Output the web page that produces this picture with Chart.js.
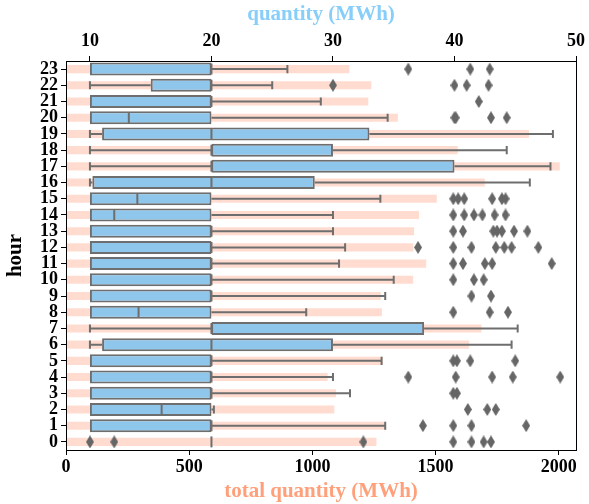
<!DOCTYPE html>
<html>
<head>
<meta charset="utf-8">
<script src="https://cdn.jsdelivr.net/npm/chart.js@4/dist/chart.umd.min.js"></script>
<style>
    html, body { margin: 0; padding: 0; background: #fff; }
    #wrap { width: 589px; height: 504px; }
</style>
</head>
<body>
<div id="wrap"><canvas id="hourChart"></canvas></div>
<script>
/* ── data ───────────────────────────────────────────────────── */
const hours    = ['0','1','2','3','4','5','6','7','8','9','10','11',
                  '12','13','14','15','16','17','18','19','20','21','22','23'];
const whiskLo  = [20, 10, 10, 10, 10, 10, 10, 10, 10, 10, 10, 10,
                  10, 10, 10, 10, 10, 10, 10, 10, 10, 10, 10, 10];
const q1       = [20, 10, 10, 10, 10, 10, 11, 20, 10, 10, 10, 10,
                  10, 10, 10, 10, 10.2, 20, 20, 11, 10, 10, 15, 10];
const median   = [20, 20, 15.9, 20, 20, 20, 20, 20, 14, 20, 20, 20,
                  20, 20, 12, 13.9, 20, 20, 20, 20, 13.2, 20, 20, 20];
const q3       = [20, 20, 20, 20, 20, 20, 30, 37.5, 20, 20, 20, 20,
                  20, 20, 20, 20, 28.5, 40, 30, 33, 20, 20, 20, 20];
const whiskHi  = [20, 34.3, 20.2, 31.4, 30, 34, 44.7, 45.2, 27.8, 34.3, 35, 30.5,
                  31, 30, 30, 33.9, 46.2, 47.9, 44.3, 48.1, 34.5, 29, 25, 26.25];
const outliers = [
    [10, 12, 32.5, 39.9, 41.4, 42.4, 43],
    [37.4, 39.9, 41.4, 45.9],
    [41.1, 42.7, 43.4],
    [39.9, 40.2],
    [36.2, 40.1, 43.1, 44.8, 48.7],
    [39.9, 40.2, 41.3, 45],
    [],
    [],
    [39.9, 42.9, 44.4],
    [41.4, 43],
    [39.9, 41.6, 42.4],
    [39.9, 40.7, 42.5, 43.1, 48],
    [37, 39.9, 41.4, 43.4, 44.1, 44.7, 46.9],
    [39.9, 40.7, 43.2, 43.5, 43.9, 44.9, 46],
    [39.9, 40.8, 41.6, 42.3, 43.3, 44.2],
    [39.9, 40.3, 40.8, 43.1, 43.9, 44.2],
    [],
    [],
    [],
    [],
    [40, 40.1, 43, 44.3],
    [42],
    [30, 40, 41, 42.8],
    [36.2, 41.3, 42.9],
];
const totals   = [1260, 1296, 1089, 1096, 1062, 1285, 1636, 1686, 1282, 1278, 1409, 1462,
                  1410, 1413, 1433, 1505, 1700, 2004, 1590, 1879, 1347, 1227, 1239, 1150];
const qtyTicks   = [10, 20, 30, 40, 50];
const totalTicks = [0, 500, 1000, 1500, 2000];

/* ── styles ─────────────────────────────────────────────────── */
const serif     = "'Liberation Serif', 'Times New Roman', serif";
const tickFont  = { family: serif, size: 18, weight: 'bold' };
const titleFont = { family: serif, size: 21, weight: 'bold' };
const edge      = '#6e6e6e';
const boxFill   = '#8fc7ec';
const barFill   = '#ffdccf';

// thin diamond marker like matplotlib's 'd'
function thinDiamond(w, h, color) {
    const c = document.createElement('canvas');
    c.width = w; c.height = h;
    const g = c.getContext('2d');
    g.fillStyle = color;
    g.beginPath();
    g.moveTo(w / 2, 0);
    g.lineTo(w, h / 2);
    g.lineTo(w / 2, h);
    g.lineTo(0, h / 2);
    g.closePath();
    g.fill();
    return c;
}

const outlierPts = outliers.flatMap((row, i) => row.map(v => ({ x: v, y: hours[i] })));

/* ── whiskers, caps, medians ────────────────────────────────── */
const boxWhiskers = {
    id: 'boxWhiskers',
    afterDatasetDraw(chart, args) {
        if (args.index !== 1) return;
        const { ctx } = chart;
        const xs = chart.scales.x2, ys = chart.scales.y;
        const band = Math.abs(ys.getPixelForValue(1) - ys.getPixelForValue(0));
        const boxH = band * 0.8, capH = band * 0.5;
        const px = v => xs.getPixelForValue(v);
        ctx.save();
        ctx.strokeStyle = edge;
        ctx.lineWidth = 2;
        hours.forEach((h, i) => {
            const y = ys.getPixelForValue(i);
            ctx.beginPath();
            if (whiskLo[i] < q1[i]) {
                ctx.moveTo(px(whiskLo[i]), y); ctx.lineTo(px(q1[i]), y);
                ctx.moveTo(px(whiskLo[i]), y - capH / 2); ctx.lineTo(px(whiskLo[i]), y + capH / 2);
            }
            if (whiskHi[i] > q3[i]) {
                ctx.moveTo(px(q3[i]), y); ctx.lineTo(px(whiskHi[i]), y);
                ctx.moveTo(px(whiskHi[i]), y - capH / 2); ctx.lineTo(px(whiskHi[i]), y + capH / 2);
            }
            ctx.moveTo(px(median[i]), y - boxH / 2 + 1);
            ctx.lineTo(px(median[i]), y + boxH / 2 - 1);
            ctx.stroke();
        });
        ctx.restore();
    },
};

const frame = {
    id: 'frame',
    afterDraw(chart) {
        const { ctx, chartArea: a } = chart;
        ctx.save();
        ctx.strokeStyle = '#000';
        ctx.lineWidth = 1;
        ctx.strokeRect(Math.round(a.left) + 0.5, Math.round(a.top) + 0.5,
                       Math.round(a.right - a.left), Math.round(a.bottom - a.top));
        ctx.restore();
    },
};

/* ── chart ──────────────────────────────────────────────────── */
new Chart(document.getElementById('hourChart'), {
    type: 'bar',
    data: {
        labels: hours,
        datasets: [
            {
                label: 'total quantity',
                data: totals,
                indexAxis: 'y',
                xAxisID: 'x', yAxisID: 'y',
                backgroundColor: barFill,
                borderWidth: 0,
                grouped: false,
                barPercentage: 0.5,
                categoryPercentage: 1,
                order: 3,
            },
            {
                label: 'quantity',
                data: q1.map((v, i) => [v, q3[i]]),
                indexAxis: 'y',
                xAxisID: 'x2', yAxisID: 'y',
                backgroundColor: boxFill,
                borderColor: edge,
                borderWidth: 2,
                borderSkipped: false,
                grouped: false,
                barPercentage: 0.8,
                categoryPercentage: 1,
                order: 2,
            },
            {
                type: 'scatter',
                label: 'outliers',
                data: outlierPts,
                xAxisID: 'x2', yAxisID: 'y',
                pointStyle: thinDiamond(8, 13, '#666666'),
                order: 0,
            },
        ],
    },
    options: {
        indexAxis: 'y',
        responsive: true,
        maintainAspectRatio: false,
        animation: false,
        layout: { padding: { left: 0, right: 11, top: 0, bottom: 0 } },
        plugins: {
            legend: { display: false },
            tooltip: { enabled: false },
        },
        scales: {
            x: {
                type: 'linear',
                position: 'bottom',
                min: 0, max: 2070,
                afterBuildTicks: s => { s.ticks = totalTicks.map(v => ({ value: v })); },
                afterFit: s => { s.height = 54; },
                ticks: { color: '#000', font: tickFont, padding: 2, maxRotation: 0, callback: v => String(v) },
                grid: { drawOnChartArea: false, tickLength: 5, color: '#000' },
                border: { display: false },
                title: {
                    display: true, text: 'total quantity (MWh)', color: '#ffa07a',
                    font: titleFont, padding: { top: 0, bottom: 0 },
                },
            },
            x2: {
                type: 'linear',
                position: 'top',
                min: 8.03, max: 50,
                afterBuildTicks: s => { s.ticks = qtyTicks.map(v => ({ value: v })); },
                afterFit: s => { s.height = 61; },
                ticks: { color: '#000', font: tickFont, padding: 4, maxRotation: 0, callback: v => String(v) },
                grid: { drawOnChartArea: false, tickLength: 5, color: '#000' },
                border: { display: false },
                title: {
                    display: true, text: 'quantity (MWh)', color: '#87cefa',
                    font: titleFont, padding: { top: 2, bottom: 0 },
                },
            },
            y: {
                type: 'category',
                labels: hours,
                reverse: true,
                offset: true,
                afterFit: s => { s.width = 66; },
                ticks: { color: '#000', font: tickFont, padding: 3, autoSkip: false },
                grid: { drawOnChartArea: false, offset: false, tickLength: 5, color: '#000' },
                border: { display: false },
                title: {
                    display: true, text: 'hour', color: '#000',
                    font: titleFont, padding: { top: 3, bottom: 0 },
                },
            },
        },
    },
    plugins: [boxWhiskers, frame],
});
</script>
</body>
</html>
